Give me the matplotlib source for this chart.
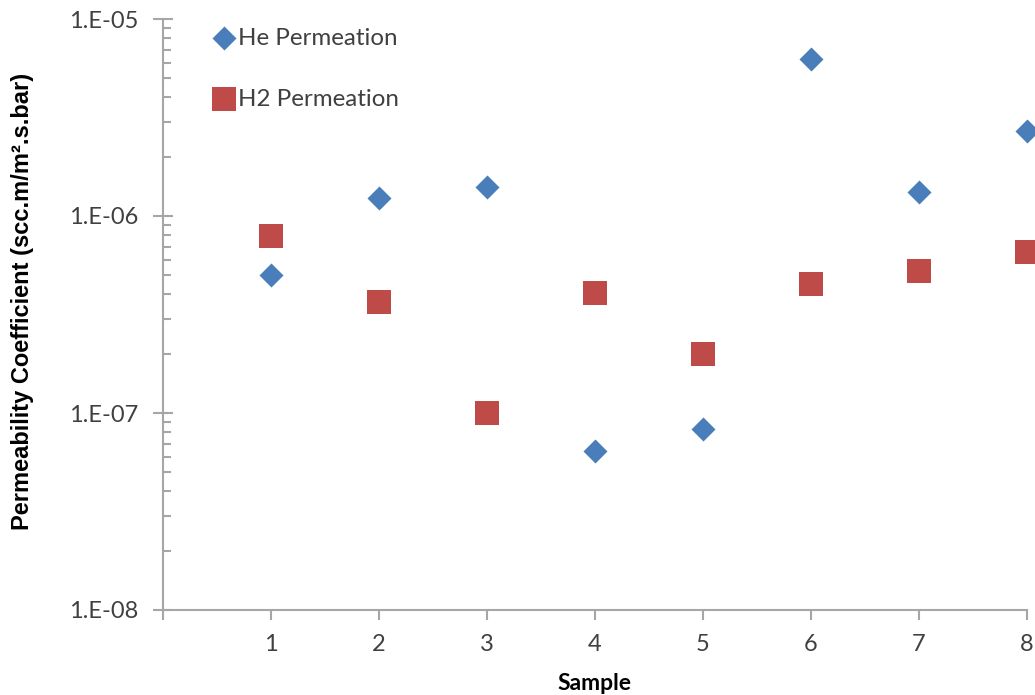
import matplotlib.pyplot as plt
from matplotlib.ticker import FixedLocator, LogLocator, NullFormatter

plt.rcParams['font.family'] = ['Lato', 'DejaVu Sans']

samples = [1, 2, 3, 4, 5, 6, 7, 8]
he_perm = [5.0e-7, 1.23e-6, 1.40e-6, 6.4e-8, 8.3e-8, 6.27e-6, 1.32e-6, 2.7e-6]
h2_perm = [7.9e-7, 3.66e-7, 1.0e-7, 4.07e-7, 1.99e-7, 4.5e-7, 5.26e-7, 6.6e-7]
y_ticks = [1e-8, 1e-7, 1e-6, 1e-5]
y_ticklabels = ["1.E-08", "1.E-07", "1.E-06", "1.E-05"]

axis_col = '#a6a6a6'
txt_col = '#404040'

fig = plt.figure(figsize=(10.35, 6.95), dpi=100)
ax = fig.add_axes([163/1035, 85/695, (1027-163)/1035, (610-19)/695])

ax.scatter(samples, he_perm, marker='D', s=150, color='#4a7ebb', linewidths=0,
           label='He Permeation', clip_on=False, zorder=3)
ax.scatter(samples, h2_perm, marker='s', s=290, color='#be4b48', linewidths=0,
           label='H2 Permeation', clip_on=False, zorder=3)

ax.set_yscale('log')
ax.set_ylim(1e-8, 1e-5)
ax.set_xlim(0, 8)

ax.yaxis.set_major_locator(FixedLocator(y_ticks))
ax.set_yticklabels(y_ticklabels)
ax.yaxis.set_minor_locator(LogLocator(base=10, subs=range(2, 10)))
ax.yaxis.set_minor_formatter(NullFormatter())
ax.set_xticks(range(0, 9))
ax.set_xticklabels([''] + [str(s) for s in samples])

for side in ['top', 'right']:
    ax.spines[side].set_visible(False)
for side in ['left', 'bottom']:
    ax.spines[side].set_color(axis_col)
    ax.spines[side].set_linewidth(1.5)

ax.tick_params(axis='y', which='major', direction='inout', length=14, width=1.5,
               color=axis_col, labelsize=17, labelcolor=txt_col, pad=11)
ax.tick_params(axis='y', which='minor', direction='in', length=6, width=1.5, color=axis_col)
ax.tick_params(axis='x', which='major', direction='out', length=7, width=1.5,
               color=axis_col, labelsize=17, labelcolor=txt_col, pad=10)

ax.set_ylabel("Permeability Coefficient (scc.m/m\u00b2.s.bar)", fontsize=17,
              fontweight='bold', color='black', family='Liberation Sans')
ax.yaxis.label.set_verticalalignment('center')
ax.yaxis.set_label_coords((23 - 163) / 864, (610 - 301) / 591)
ax.set_xlabel("Sample", fontsize=16.5, fontweight='bold', color='black')
ax.xaxis.label.set_verticalalignment('center')
ax.xaxis.set_label_coords((594 - 163) / 864, -(683 - 610) / 591)

ax.legend(loc='upper left', bbox_to_anchor=(193/1035, 1 - 6/695),
          bbox_transform=fig.transFigure, frameon=False, fontsize=17.4,
          labelspacing=1.65, handletextpad=0.15, handlelength=0.8,
          labelcolor=txt_col, scatterpoints=1)

fig.savefig('out.png', dpi=100)
